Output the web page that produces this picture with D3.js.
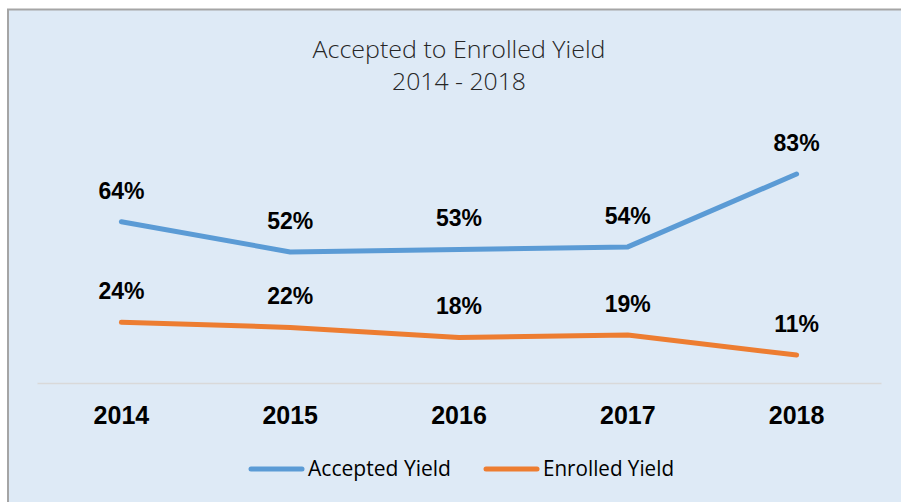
<!DOCTYPE html>
<html>
<head>
<meta charset="utf-8">
<script src="https://cdn.jsdelivr.net/npm/d3@7"></script>
<style>
  body { margin: 0; background: #fff; }
  svg { display: block; }
</style>
</head>
<body>
<svg id="chart" width="901" height="502"></svg>
<script>
const years = ['2014', '2015', '2016', '2017', '2018'];
const acceptedYield = [64, 52, 53, 54, 83];
const enrolledYield = [24, 22, 18, 19, 11];
const seriesNames = ['Accepted Yield', 'Enrolled Yield'];

const width = 901, height = 502;
const colors = ['#5B9BD5', '#ED7D31'];

const svg = d3.select('#chart');

// chart background + frame (left and top edges show)
svg.append('rect')
  .attr('x', 8).attr('y', 9)
  .attr('width', width - 8).attr('height', height - 9)
  .attr('fill', '#DEEAF6');
svg.append('path')
  .attr('d', `M8,${height}V9.5H${width}`)
  .attr('fill', 'none')
  .attr('stroke', '#A5A5A5')
  .attr('stroke-width', 2);

const x = d3.scaleBand().domain(years).range([37, 881]);
const y = d3.scaleLinear().domain([0, 83]).range([382.7, 174]);

// title
const title = svg.append('text')
  .attr('text-anchor', 'middle')
  .attr('fill', '#262626')
  .style('font-family', '"Open Sans", sans-serif')
  .style('font-weight', 300)
  .style('font-size', '24px');
title.append('tspan').attr('x', 459).attr('y', 58)
  .attr('textLength', 293).attr('lengthAdjust', 'spacingAndGlyphs')
  .text('Accepted to Enrolled Yield');
title.append('tspan').attr('x', 459).attr('y', 90)
  .attr('textLength', 134).attr('lengthAdjust', 'spacingAndGlyphs')
  .text('2014 - 2018');

// x axis
const xAxis = svg.append('g')
  .attr('transform', 'translate(0,383)')
  .call(d3.axisBottom(x).tickSize(0).tickPadding(0));
xAxis.select('.domain').attr('stroke', '#D9D9D9').attr('stroke-width', 1.5);
xAxis.selectAll('text')
  .attr('dy', null)
  .attr('y', 41)
  .attr('fill', '#000')
  .style('font-family', '"Liberation Sans", Arial, sans-serif')
  .style('font-weight', 'bold')
  .style('font-size', '25px');

// lines
const line = d3.line()
  .x((d, i) => x(years[i]) + x.bandwidth() / 2)
  .y(d => y(d));

[acceptedYield, enrolledYield].forEach((values, s) => {
  svg.append('path')
    .datum(values)
    .attr('d', line)
    .attr('fill', 'none')
    .attr('stroke', colors[s])
    .attr('stroke-width', 5)
    .attr('stroke-linecap', 'round')
    .attr('stroke-linejoin', 'round');

  svg.selectAll(null)
    .data(values)
    .enter()
    .append('text')
    .attr('x', (d, i) => x(years[i]) + x.bandwidth() / 2)
    .attr('y', d => y(d) - 23)
    .attr('text-anchor', 'middle')
    .attr('fill', '#000')
    .style('font-family', '"Liberation Sans", Arial, sans-serif')
    .style('font-weight', 'bold')
    .style('font-size', '23px')
    .text(d => d + '%');
});

// legend
const legendX = [249, 484];
const legendTextW = [143, 131];
seriesNames.forEach((name, s) => {
  svg.append('line')
    .attr('x1', legendX[s] + 2).attr('x2', legendX[s] + 53)
    .attr('y1', 469).attr('y2', 469)
    .attr('stroke', colors[s])
    .attr('stroke-width', 5)
    .attr('stroke-linecap', 'round');
  svg.append('text')
    .attr('x', legendX[s] + 59)
    .attr('y', 476)
    .attr('fill', '#000')
    .attr('textLength', legendTextW[s])
    .attr('lengthAdjust', 'spacingAndGlyphs')
    .style('font-family', '"Open Sans", sans-serif')
    .style('font-size', '21px')
    .text(name);
});
</script>
</body>
</html>
